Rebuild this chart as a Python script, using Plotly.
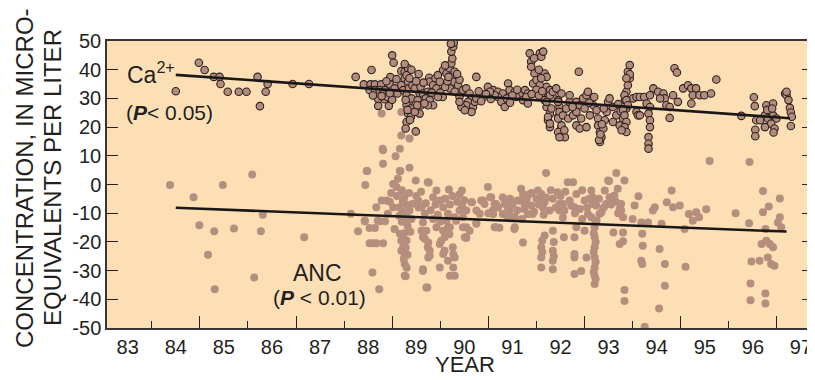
import plotly.graph_objects as go

# ---------------- data ----------------
ca_pts = [
    (84.0,32.5),(84.48,42.4),(84.6,39.9),(84.79,37.5),(84.91,37.5),(84.93,35.0),(85.08,32.3),(85.31,32.3),
    (85.47,32.3),(85.7,37.5),(85.75,27.3),(85.87,32.3),(85.91,35.0),(86.43,35.0),(86.77,35.0),(87.74,37.5),
    (88.07,39.9),(88.5,45.0),(88.53,42.4),
    (87.91,34.9),(88.05,34.9),(88.14,34.9),(88.27,34.9),(88.03,32.9),(88.14,32.9),(88.24,32.9),(88.35,32.9),
    (88.21,29.7),(88.34,29.7),(88.21,27.4),(88.43,27.4),(88.46,37.4),(88.45,34.9),(88.59,36.7),(88.69,39.5),
    (88.76,39.3),(88.83,40.5),(88.55,33.5),(88.61,31.7),(88.69,34.6),(88.76,37.0),(88.73,32.9),
    (88.1,31.0),(88.3,31.5),(88.4,30.5),(88.5,29.5),(88.45,31.8),(88.38,36.0),(88.28,30.8),
    (88.8,38.1),(88.83,35.8),(88.85,33.5),(88.8,31.1),(88.85,28.8),(88.8,27.7),(88.89,26.5),(88.83,24.7),
    (88.89,23.6),(88.8,21.8),(88.78,19.5),(88.99,18.5),(88.9,30.0),(88.92,34.5),(88.86,37.0),(88.78,29.5),
    (88.82,26.0),(88.87,22.5),(88.9,40.0),(88.76,42.0),
    (88.97,33.5),(89.07,31.7),(89.03,29.4),(89.1,27.6),(89.07,24.7),(88.97,25.3),(89.02,27.6),(89.09,34.0),
    (89.14,31.7),(89.24,32.3),(89.2,30.0),(89.28,29.4),(89.35,27.6),(89.24,27.6),(89.17,28.2),(89.27,37.2),
    (89.28,35.8),(89.35,34.6),(89.42,33.5),(89.4,37.0),(89.45,38.1),(89.49,35.8),(89.56,39.9),(89.63,38.7),
    (89.7,40.5),(89.73,42.2),(89.75,43.9),(89.73,46.3),(89.77,48.0),(89.78,49.4),(89.72,49.0),(89.8,39.3),
    (89.84,37.0),(89.77,35.8),(89.87,34.6),(89.7,33.5),(89.8,32.3),(89.97,32.9),(90.04,33.5),(90.11,31.7),
    (90.15,30.0),(90.08,28.8),(90.04,27.6),(90.18,27.0),(90.22,28.8),(90.25,30.0),(89.9,30.6),(89.94,27.0),
    (90.15,25.3),(90.01,25.9),(89.9,28.8),(90.25,37.5),
    (89.5,32.0),(89.6,34.0),(89.65,36.0),(89.55,30.5),(89.9,36.5),(89.85,38.5),(89.6,41.5),(89.67,37.5),
    (89.45,30.5),(89.32,32.0),(89.15,35.5),(89.0,36.0),(89.05,38.5),
    (90.49,34.0),(90.6,32.9),(90.7,32.3),(90.8,31.7),(90.91,35.2),(90.94,32.9),(91.05,32.3),(91.15,31.1),
    (91.26,32.9),(91.32,31.7),(91.08,30.5),(91.22,29.4),(91.32,28.2),(91.29,30.5),(90.7,30.5),(90.77,28.8),
    (90.84,27.0),(90.63,31.1),(90.53,32.3),(90.39,30.5),(90.35,29.0),(90.45,31.5),(90.55,29.8),(90.88,30.0),
    (91.0,31.0),(91.1,33.0),(90.3,32.5),(90.95,28.5),
    (91.36,45.7),(91.39,42.8),(91.57,45.7),(91.6,44.5),(91.64,46.3),(91.67,38.7),(91.71,37.5),(91.39,41.0),
    (91.46,38.7),(91.43,35.2),(91.5,36.4),(91.57,34.6),(91.71,34.0),(91.78,32.9),(91.74,30.5),(91.67,29.4),
    (91.71,27.0),(91.78,24.7),(91.74,22.4),(91.78,20.0),(91.84,30.5),(91.95,29.4),(92.02,31.7),(91.98,27.0),
    (91.95,23.5),(92.02,20.0),(91.98,17.7),(92.09,16.5),(92.38,39.3),
    (91.45,44.0),(91.55,40.0),(91.6,37.0),(91.5,33.0),(91.4,31.5),(91.55,31.0),(91.62,32.5),
    (91.71,28.8),(91.78,31.1),(91.84,32.3),(91.91,33.5),(91.81,26.5),(91.74,23.5),(91.78,21.2),(91.95,28.8),
    (91.98,25.3),(91.95,23.0),(92.02,20.6),(91.95,18.3),(91.98,16.5),(92.08,18.9),(92.05,24.1),(92.12,26.5),
    (92.19,28.8),(92.19,31.1),(92.16,23.0),(92.26,24.1),(92.33,25.3),
    (92.33,28.8),(92.4,27.6),(92.47,30.0),(92.54,31.1),(92.57,32.3),(92.5,26.5),(92.43,23.0),(92.33,20.6),
    (92.4,19.5),(92.54,20.0),(92.61,24.1),(92.68,27.6),(92.75,25.9),(92.78,23.0),(92.78,20.6),(92.82,18.3),
    (92.85,16.5),(92.82,14.8),(92.89,19.5),(92.92,22.4),(92.96,25.3),(92.99,28.8),(93.02,30.0),(93.09,27.0),
    (93.16,24.1),(93.09,21.8),(93.23,20.6),(93.3,23.0),(93.37,26.5),(93.34,29.4),(93.37,32.3),(93.4,34.6),
    (93.44,37.0),(93.4,39.3),(93.44,41.6),(93.51,30.0),(93.58,25.3),(93.61,24.1),(93.58,30.5),
    (92.8,15.5),(92.83,17.5),(92.86,21.0),(92.6,28.5),(92.7,30.5),(92.25,27.0),(92.9,26.5),(93.2,28.0),(93.25,25.5),
    (93.44,38.4),(93.37,37.0),(93.33,31.1),(93.37,29.4),(93.4,27.6),(93.3,25.9),(93.33,24.1),(93.37,21.8),
    (93.33,20.0),(93.37,18.3),(93.27,18.9),
    (93.65,30.5),(93.74,30.5),(93.86,31.1),(93.93,33.5),(94.03,32.3),(94.14,31.7),(94.17,30.0),(94.07,30.0),
    (93.79,28.2),(93.86,27.0),(93.83,24.7),(93.86,22.4),(93.86,20.0),(93.83,16.5),(93.83,14.2),(93.83,12.5),
    (93.65,24.1),(94.2,27.6),(94.27,27.0),(94.27,23.2),(94.34,31.1),(94.37,40.5),(94.42,39.0),(94.55,33.5),
    (94.65,34.6),(94.72,33.5),(94.82,33.5),(94.75,31.1),(94.89,31.1),(94.99,31.1),(95.13,31.7),(95.24,36.6),
    (94.44,28.8),(94.72,28.2),
    (96.02,30.4),(96.04,27.3),(96.07,22.4),(96.05,19.1),(96.05,16.8),(95.76,23.9),(96.28,27.6),(96.42,28.2),
    (96.35,25.3),(96.25,24.1),(96.31,23.0),(96.42,24.1),(96.49,23.0),(96.38,21.2),(96.45,19.5),(96.43,18.1),
    (96.25,20.0),(96.15,22.4),(96.67,31.7),(96.7,31.1),(96.74,29.4),(96.77,26.7),(96.79,25.1),(96.81,23.6),
    (96.79,20.4),(96.3,26.0),(96.4,26.5),(96.7,32.3),
]

anc_pts = [
    (83.88,-0.2),(84.37,-4.4),(84.98,-0.2),(85.59,3.5),(84.49,-14.2),(84.8,-16.3),(85.21,-15.3),(85.77,-16.3),
    (85.81,-10.5),(84.67,-24.5),(85.63,-32.4),(84.81,-36.5),(86.67,-18.4),(87.64,-10.2),(87.93,-12.8),
    (87.79,-16.3),(87.94,-0.2),(87.97,4.7),(88.09,-30.7),(88.23,-36.5),
    (88.31,11.9),(88.57,9.8),(88.86,5.8),(88.66,4.7),(88.99,1.4),(89.26,0.7),(89.68,-1.7),(89.95,-2.1),
    (88.03,-15.2),(88.14,-15.2),(88.03,-20.5),(88.17,-20.5),(88.31,-20.5),(88.17,-7.9),(88.28,-5.6),
    (88.38,-5.6),(88.35,-12.8),(88.24,-12.8),(88.41,-10.2),(88.52,-7.9),(88.59,-0.9),(88.52,0.2),(88.62,2.0),
    (88.69,17.1),(88.86,16.0),(88.28,24.7),(88.69,25.3),(88.3,12.5),(88.66,12.5),(88.31,7.2),(87.98,4.7),
    (88.67,4.7),(89.24,0.8),(87.93,-12.6),(88.2,-12.6),(88.1,-20.5),(89.21,-35.9),(89.14,-30.1),
    (88.55,-15.5),(88.66,-17.2),(88.69,-19.6),(88.73,-21.9),(88.76,-24.2),(88.76,-27.7),(88.76,-31.8),
    (88.69,-23.1),(88.8,-11.4),(88.86,-9.1),(88.93,-6.7),(89.04,-5.6),
    (88.7,-2.0),(88.75,-4.5),(88.8,-7.0),(88.72,-9.5),(88.78,-12.0),(88.82,-14.5),(88.75,-17.0),(88.8,-19.5),
    (88.78,-22.0),(88.82,-24.5),(88.74,-26.0),(88.8,-29.0),(88.78,-32.0),(88.85,-3.0),(88.9,-12.0),
    (88.88,-16.5),(88.7,-13.0),(88.65,-8.0),(88.6,-4.0),(88.48,-3.0),(88.45,-6.0),(88.65,-11.0),(88.72,-6.0),
    (89.11,-7.9),(89.18,-10.2),(89.14,-13.2),(89.11,-16.1),(89.18,-19.0),(89.25,-20.2),(89.28,-23.1),
    (89.25,-25.4),(89.14,-29.5),(89.23,-35.9),(89.35,-4.4),(89.42,-2.1),(89.49,-5.6),(89.56,-7.9),
    (89.66,-10.2),(89.63,-12.6),(89.56,-16.1),(89.52,-19.6),(89.59,-23.1),(89.66,-26.6),(89.77,-24.2),
    (89.77,-28.9),(89.7,-31.8),(89.8,-31.8),(89.49,-28.9),(89.56,-24.2),(89.7,-14.9),(89.8,-11.4),
    (89.9,-9.1),(89.97,-11.4),(90.04,-14.9),(90.04,-18.4),(90.15,-6.2),(90.25,-13.7),(90.32,-10.2),
    (89.8,-25.4),(89.49,-20.7),(89.59,-18.4),(89.69,-17.3),(89.76,-21.9),(90.01,-18.4),(90.11,-16.1),
    (90.25,-9.1),(89.83,-12.6),(89.66,-14.9),(89.42,-14.9),(89.21,-16.1),(89.24,-21.9),(89.28,-24.8),
    (89.14,-18.4),
    (89.05,-8.0),(89.2,-6.5),(89.3,-9.0),(89.4,-7.0),(89.45,-10.5),(89.6,-5.0),(89.7,-7.0),(89.75,-4.0),
    (89.85,-6.0),(89.9,-3.5),(90.0,-5.5),(89.35,-12.0),(89.5,-13.0),(89.95,-7.5),(89.0,-4.0),(89.1,-2.5),
    (90.04,-9.1),(90.04,-18.6),(89.97,-14.9),
    (90.16,-6.2),(90.25,-13.2),(90.35,-5.6),(90.42,-6.8),(90.49,-0.9),(90.54,-4.4),(90.59,-9.1),(90.63,-14.9),
    (90.73,-15.1),(90.66,-6.8),(90.8,-10.3),(90.87,-6.8),(90.94,-9.1),(91.01,-11.4),(91.04,-15.5),
    (91.11,-5.6),(91.18,-1.5),(91.22,-20.2),(91.25,-6.8),(91.36,-3.3),(91.42,-10.3),(91.53,-2.1),
    (91.6,-5.6),(91.63,-7.9),(91.6,-21.9),(91.6,-25.4),(91.6,-28.9),(91.7,4.0),(91.67,-17.8),(91.84,-16.1),
    (91.84,-23.1),(91.84,-26.6),(91.84,-29.5),(91.94,-2.7),(91.98,-9.1),(92.05,-6.8),(92.07,-18.4),
    (92.15,0.8),(92.26,0.8),(92.19,-5.6),(92.29,-7.9),(92.33,-14.9),(92.29,-18.4),(92.29,-24.2),
    (92.29,-25.4),(92.29,-31.2),(92.43,-30.1),(92.5,-16.1),(92.54,-25.4),(92.64,-2.1),(92.67,-6.8),
    (92.64,-11.4),(92.71,-14.9),(92.71,-18.4),(92.71,-21.9),(92.71,-25.4),(92.71,-28.9),(92.71,-31.8),
    (92.71,-34.7),(92.81,-10.3),(92.92,-2.1),(93.01,1.2),(92.95,-6.8),(93.16,4.0),(93.33,1.4),(93.09,-4.4),
    (93.23,-8.5),(93.3,-11.4),(93.1,-16.7),(93.3,-16.7),(93.3,-19.8),(93.23,-20.7),(93.33,-36.8),
    (93.33,-40.6),(93.62,-4.1),(93.5,-12.0),(93.68,-13.2),(93.7,-17.2),(93.71,-21.3),(93.68,-26.6),
    (93.7,-27.7),(93.82,-13.2),(93.92,-9.1),(93.96,-7.9),(94.06,-22.5),(94.1,-13.7),(94.17,-27.7),
    (94.17,-35.3),(94.05,-43.2),(93.75,-49.6),(94.31,-2.1),(94.21,-6.2),(94.34,-7.9),(94.48,-7.3),
    (94.58,-15.5),(94.6,-28.7),(94.67,-10.3),(94.75,-12.6),(94.82,-9.7),(94.88,-11.4),(95.03,-8.6),
    (95.1,8.2),(95.64,-10.0),(95.92,-13.5),(95.93,7.8),(95.95,-34.5),(95.95,-40.3),(95.97,-26.8),
    (96.14,-26.6),(96.18,-20.7),(96.21,-2.3),(96.21,-9.7),(96.28,-19.6),(96.31,-25.4),(96.35,-20.7),
    (96.38,-27.7),(96.42,-21.9),(96.33,-7.7),(96.45,-28.3),(96.26,-15.5),(96.26,-38.0),(96.26,-41.5),
    (96.56,-4.9),(96.52,-13.2),(96.56,-11.4),(96.59,-14.9),
    (90.39,-5.6),(90.56,-4.4),(90.63,-6.8),(90.6,-10.3),(90.66,-14.9),(90.84,-6.8),(90.91,-8.5),
    (91.05,-11.4),(91.05,-14.9),(91.15,-5.6),(91.22,-3.3),(91.25,-8.5),(91.32,-10.3),(91.39,-7.3),
    (91.5,-5.0),(91.6,-3.3),(91.67,-6.2),(91.77,-9.1),(91.84,-5.0),(91.98,-6.8),(92.08,-9.1),(92.22,-7.3),
    (92.33,-3.3),(92.4,-8.5),(92.5,-5.6),(92.57,-10.3),(92.67,-4.4),(92.74,-7.3),(92.85,-9.7),(92.99,1.4),
    (93.02,-4.4),(93.12,-3.8),(93.19,-1.5),(93.26,-6.8),(93.26,-9.1),(93.54,-7.3),
    (90.7,-8.0),(90.8,-4.5),(90.95,-5.0),(91.0,-7.0),(91.1,-9.0),(91.3,-5.0),(91.4,-3.0),(91.45,-9.5),
    (91.55,-7.0),(91.7,-4.5),(91.8,-2.0),(91.9,-8.0),(92.0,-4.0),(92.1,-2.5),(92.3,-10.0),(92.45,-2.0),
    (92.55,-8.0),(92.6,-5.0),(92.8,-5.0),(92.9,-8.0),(93.05,-7.0),(93.15,-6.0),(93.2,-10.0),(90.5,-10.0),
    (90.9,-11.5),(91.2,-12.0),(91.65,-10.5),(92.05,-11.5),(92.45,-12.0),(92.75,-12.5),
    (92.73,-13.0),(92.69,-17.0),(92.73,-20.0),(92.69,-23.5),(92.73,-27.0),(92.69,-30.5),(92.73,-33.0),
    (91.62,-19.5),(91.62,-23.5),(91.86,-20.0),(91.86,-25.0),
]

ca_years = [p[0] for p in ca_pts]
ca_values = [p[1] for p in ca_pts]
anc_years = [p[0] for p in anc_pts]
anc_values = [p[1] for p in anc_pts]

ca_trend_years = [84.0, 96.77]
ca_trend_values = [38.2, 23.1]
anc_trend_years = [84.0, 96.7]
anc_trend_values = [-8.1, -16.4]

year_labels = [83, 84, 85, 86, 87, 88, 89, 90, 91, 92, 93, 94, 95, 96, 97]
short_ticks = [83.5, 85.5, 87.5, 89.5, 91.5, 93.5, 95.5]
long_ticks = [84.5, 86.5, 88.5, 90.5, 92.5, 94.5, 96.5]
y_ticks = [-50, -40, -30, -20, -10, 0, 10, 20, 30, 40, 50]

# ---------------- styling ----------------
FONT = "Liberation Sans, Arial, sans-serif"
TXT = "#231F20"
BG = "#FDDFB6"
PAGE_OFF = 8                      # default body margin of the html page
L, R, T, B = 107, 813, 41, 328    # plot area in window pixels
FW, FH = 815 - PAGE_OFF, 380 - PAGE_OFF

fig = go.Figure()
fig.add_trace(go.Scatter(x=anc_years, y=anc_values, mode="markers",
                         marker=dict(size=8, color="#B58E7D", line=dict(width=0)),
                         showlegend=False, hoverinfo="skip"))
fig.add_trace(go.Scatter(x=ca_years, y=ca_values, mode="markers",
                         marker=dict(size=7.5, color="#B48C7E", line=dict(width=1.1, color="#2B2220")),
                         showlegend=False, hoverinfo="skip"))
fig.add_trace(go.Scatter(x=ca_trend_years, y=ca_trend_values, mode="lines",
                         line=dict(color="#1A1717", width=2.6), showlegend=False, hoverinfo="skip"))
fig.add_trace(go.Scatter(x=anc_trend_years, y=anc_trend_values, mode="lines",
                         line=dict(color="#1A1717", width=2.6), showlegend=False, hoverinfo="skip"))
# empty trace to carry the long-tick overlay axis
fig.add_trace(go.Scatter(x=[], y=[], xaxis="x2", showlegend=False, hoverinfo="skip"))

xr = [82.57, 97.25]
fig.update_layout(
    width=FW, height=FH,
    margin=dict(l=L - PAGE_OFF, r=FW - (R - PAGE_OFF), t=T - PAGE_OFF,
                b=FH - (B - PAGE_OFF), autoexpand=False),
    paper_bgcolor="white", plot_bgcolor=BG,
    font=dict(family=FONT, color=TXT, size=20),
    xaxis=dict(range=xr, tickmode="array", tickvals=year_labels, automargin=False,
               ticktext=[str(v) for v in year_labels], ticks="",
               showgrid=False, zeroline=False, showline=True, linecolor="#3A3433",
               linewidth=1.5, mirror=True,
               tickfont=dict(size=20, family=FONT, color=TXT),
               minor=dict(tickmode="array", tickvals=short_ticks, ticks="inside",
                          ticklen=7, tickwidth=1.4, tickcolor="#2B2220", showgrid=False)),
    xaxis2=dict(range=xr, overlaying="x", anchor="y", side="bottom", tickmode="array",
                automargin=False,
                tickvals=long_ticks, ticks="inside", ticklen=12, tickwidth=1.4,
                tickcolor="#2B2220", showticklabels=False, showgrid=False, zeroline=False,
                showline=False),
    yaxis=dict(range=[-50, 50], tickmode="array", tickvals=y_ticks, automargin=False,
               ticktext=[str(v) for v in y_ticks], ticks="inside", ticklen=11,
               tickwidth=1.4, tickcolor="#2B2220",
               showgrid=False, zeroline=False, showline=True, linecolor="#3A3433",
               linewidth=1.5, mirror="ticks",
               tickfont=dict(size=20, family=FONT, color=TXT)),
)

annotations = [
    dict(text="CONCENTRATION, IN MICRO-", x=24, y=178, textangle=-90, size=24, ya="middle"),
    dict(text="EQUIVALENTS PER LITER", x=52, y=178, textangle=-90, size=24, ya="middle"),
    dict(text="YEAR", x=465, y=379, textangle=0, size=22, ya="bottom"),
]
for a in annotations:
    fig.add_annotation(text=a["text"], xref="paper", yref="paper",
                       x=(a["x"] - L) / (R - L), y=(B - a["y"]) / (B - T),
                       xanchor="center", yanchor=a["ya"], textangle=a["textangle"],
                       showarrow=False, font=dict(size=a["size"], family=FONT, color=TXT))

labels = [
    ("Ca<sup>2+</sup>", 84.02, 38.7, "right", 23),
    ("(<b><i>P</i></b>< 0.05)", 82.92, 25.0, "left", 21),
    ("ANC", 86.95, -31.0, "center", 23),
    ("(<b><i>P</i></b> < 0.01)", 86.98, -39.5, "center", 21),
]
for text, x, y, anchor, size in labels:
    fig.add_annotation(text=text, x=x, y=y, xref="x", yref="y", xanchor=anchor,
                       yanchor="middle", showarrow=False,
                       font=dict(size=size, family=FONT, color=TXT))

fig.write_html("out.html")
